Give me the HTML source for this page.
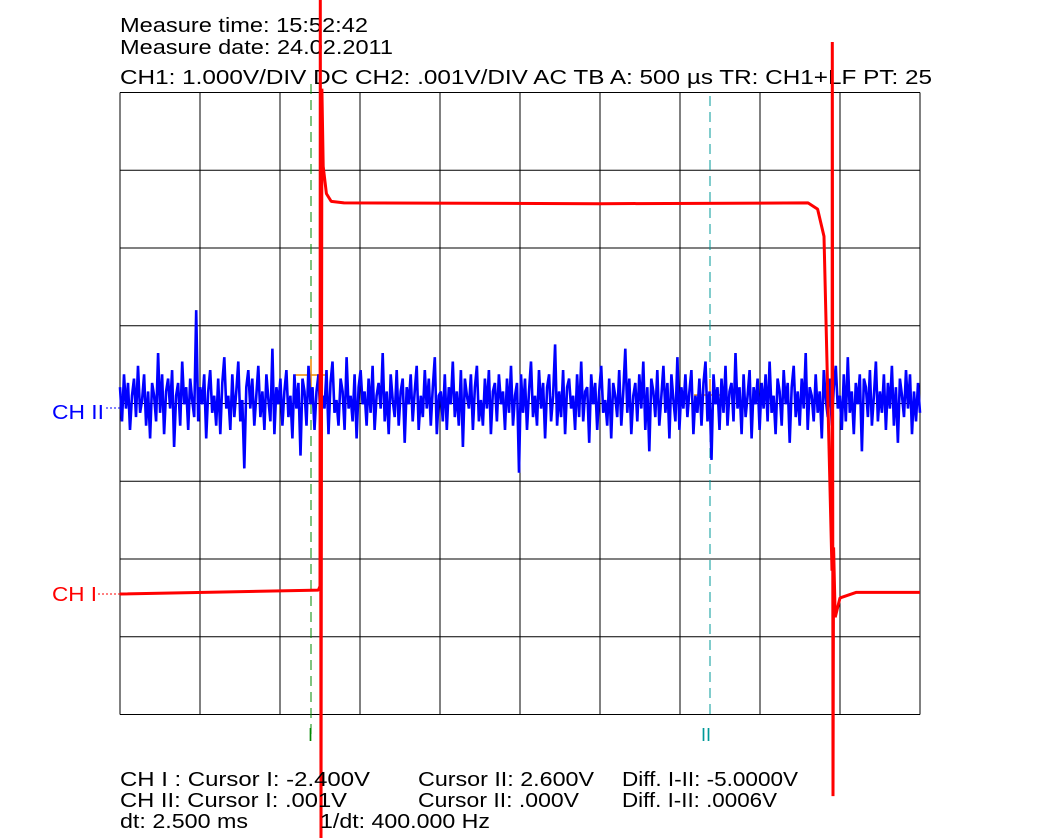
<!DOCTYPE html>
<html><head><meta charset="utf-8"><style>
body{margin:0;background:#fff;width:1041px;height:838px;overflow:hidden}
svg{display:block;font-family:"Liberation Sans",sans-serif}
</style></head><body>
<svg id="c" width="1041" height="838">
<g font-size="20" fill="#000">
<text x="120" y="32" textLength="248" lengthAdjust="spacingAndGlyphs">Measure time: 15:52:42</text>
<text x="120" y="54" textLength="273" lengthAdjust="spacingAndGlyphs">Measure date: 24.02.2011</text>
<text x="120" y="84" textLength="812" lengthAdjust="spacingAndGlyphs">CH1: 1.000V/DIV DC  CH2: .001V/DIV AC   TB A: 500 µs  TR: CH1+LF  PT: 25</text>
</g>
<g id="grid"></g>
<g id="cursors"></g>
<g id="traces"></g>
<text x="52" y="419" font-size="20" fill="#00f" textLength="52" lengthAdjust="spacingAndGlyphs">CH II</text>
<line x1="106" y1="408" x2="120" y2="408" stroke="#00f" stroke-dasharray="2,2"/>
<text x="52" y="601" font-size="20" fill="#f00" textLength="45" lengthAdjust="spacingAndGlyphs">CH I</text>
<line x1="98" y1="594" x2="120" y2="594" stroke="#f00" stroke-dasharray="2,2"/>
<g font-size="20" fill="#000">
<text x="120" y="786" textLength="250" lengthAdjust="spacingAndGlyphs">CH I :  Cursor I: -2.400V</text>
<text x="418" y="786" textLength="176" lengthAdjust="spacingAndGlyphs">Cursor II: 2.600V</text>
<text x="622" y="786" textLength="176" lengthAdjust="spacingAndGlyphs">Diff. I-II: -5.0000V</text>
<text x="120" y="807" textLength="227" lengthAdjust="spacingAndGlyphs">CH II:  Cursor I: .001V</text>
<text x="418" y="807" textLength="161" lengthAdjust="spacingAndGlyphs">Cursor II: .000V</text>
<text x="622" y="807" textLength="155" lengthAdjust="spacingAndGlyphs">Diff. I-II: .0006V</text>
<text x="120" y="828" textLength="128" lengthAdjust="spacingAndGlyphs">dt: 2.500 ms</text>
<text x="320" y="828" textLength="170" lengthAdjust="spacingAndGlyphs">1/dt: 400.000 Hz</text>
</g>
</svg>
<script>
// CH1 (volts) vs time (ms)
const ch1Times=[0,1.24,1.25,1.252,1.256,1.262,1.27,1.29,1.32,1.4,3,4.3,4.36,4.4,4.43,4.45,4.452,4.456,4.46,4.47,4.5,4.6,5];
const ch1Volts=[0,0.05,0.1,10,-10,6.5,5.5,5.15,5.05,5.03,5.02,5.03,4.95,4.6,2,0.3,7.1,-2.6,0.6,-0.3,-0.05,0.02,0.02];
// CH2 noise (divisions, 0.001 V/div), evenly spaced over 5 ms
const ch2Noise=[0.3,-0.5,0.6,-0.2,0.4,-0.7,0.1,0.5,-0.4,0.8,-0.3,0.0,0.6,-0.6,0.2,-0.9,0.4,0.1,-0.5,1.1,-0.3,0.6,-0.8,0.2,0.5,-0.2,0.7,-1.1,0.1,0.4,-0.6,0.9,-0.1,0.3,-0.7,0.5,0.0,-0.4,2.1,-0.5,0.3,-0.1,0.6,-0.9,0.2,0.7,-0.3,0.1,-0.6,0.5,
-0.8,0.4,1.0,-0.2,0.1,-0.7,0.6,-0.4,0.2,0.9,-0.5,0.0,-1.6,0.3,0.7,-0.2,0.5,-0.6,0.1,0.8,-0.4,0.2,-0.7,0.6,0.0,-0.5,1.2,-0.8,0.3,-0.1,0.5,-0.6,0.2,0.7,-0.4,0.1,-0.9,0.6,-0.2,0.4,-1.3,0.5,0.2,-0.6,0.8,-0.1,0.3,-0.7,0.2,0.6,
-0.5,0.1,-0.2,0.7,-0.8,0.4,0.9,-0.3,0.0,-0.6,0.5,0.2,-0.7,1.0,-0.2,0.1,-0.5,0.6,-0.9,0.3,0.7,-0.1,0.2,-0.6,0.5,-0.3,0.8,-0.7,0.1,0.4,-0.2,1.1,-0.5,0.2,-0.8,0.6,0.0,-0.4,0.7,-0.6,0.2,0.5,-1.0,0.3,-0.1,0.6,-0.5,0.2,0.8,-0.7,
0.1,-0.4,0.7,-0.2,0.5,-0.6,0.3,1.0,-0.8,0.1,0.2,-0.5,0.6,-0.7,0.3,-0.1,0.9,-0.4,0.2,-0.6,0.7,-1.1,0.5,0.1,-0.2,0.6,-0.7,0.3,0.8,-0.5,0.0,-0.6,0.5,-0.2,0.7,-0.8,0.2,0.4,-0.5,0.6,-0.1,0.2,-0.7,0.5,-0.3,0.8,-0.6,0.1,0.4,-1.7,
0.6,-0.3,0.5,-0.7,0.2,0.9,-0.4,0.1,-0.6,0.7,-0.2,0.4,-0.9,0.3,0.6,-0.5,0.1,1.3,-0.6,0.2,-0.4,0.7,-0.8,0.3,0.5,-0.2,0.1,-0.7,0.6,-0.4,0.9,-0.5,0.2,0.3,-1.0,0.6,-0.1,0.4,-0.7,0.2,0.8,-0.3,0.0,-0.6,0.5,-0.9,0.4,0.1,-0.4,0.7,
-0.6,0.2,1.2,-0.3,0.5,-0.8,0.1,0.4,-0.5,0.6,-0.2,0.9,-0.7,0.3,-1.2,0.5,0.2,-0.4,0.7,-0.6,0.1,0.8,-0.3,0.4,-0.9,0.6,0.0,-0.5,1.0,-0.7,0.3,-0.2,0.6,-0.4,0.2,0.7,-0.8,0.1,-0.3,0.5,-0.6,0.4,0.9,-0.5,0.2,-1.4,0.6,-0.1,0.3,-0.7,
0.5,-0.3,0.8,-0.6,0.2,0.4,-0.5,1.1,-0.2,0.3,-0.8,0.6,-0.4,0.1,0.7,-0.9,0.3,-0.1,0.5,-0.7,0.4,-0.2,0.6,-0.5,0.9,-0.3,0.1,-0.8,0.5,0.2,-0.6,0.7,-0.1,0.4,-1.0,0.3,0.8,-0.4,0.2,-0.6,0.5,-0.2,1.1,-0.7,0.3,0.1,-0.5,0.6,-0.3,0.2,
-0.9,0.7,0.0,-0.4,0.5,-0.6,0.3,0.8,-0.2,0.1,-0.7,0.6,-0.5,1.0,-0.3,0.2,-0.8,0.4,-0.1,0.6,-1.2,0.5,0.3,-0.4,0.7,-0.6,0.1,0.9,-0.5,0.2,-0.3,0.6,-0.7,0.4,-0.2,0.8,-0.6,0.3,-1.0,0.5,0.1,-0.4,0.7,-0.2,0.6,-0.8,0.2,-0.5,0.4,-0.3];
const gx0=120,gy0=92.5,divW=80,divH=77.75;
const ns="http://www.w3.org/2000/svg";
function xOf(ms){return gx0+ms/0.5*divW;}
function y1Of(v){return 594-v*divH;}
function y2Of(d){return 400-d*divH*0.55;}
function mk(t,a,p){const e=document.createElementNS(ns,t);for(const k in a)e.setAttribute(k,a[k]);p.appendChild(e);return e;}
const grid=document.getElementById('grid');
for(let i=0;i<=10;i++){const l=mk('line',{x1:gx0+i*divW,y1:gy0,x2:gx0+i*divW,y2:gy0+8*divH,stroke:'#000','stroke-width':1},grid);

}
for(let j=0;j<=8;j++){const l=mk('line',{x1:gx0,y1:gy0+j*divH,x2:gx0+10*divW,y2:gy0+j*divH,stroke:'#000','stroke-width':1},grid);

}
const cur=document.getElementById('cursors');
const c1=mk('line',{x1:311,y1:84,x2:311,y2:740,stroke:'#080','stroke-dasharray':'10,6'},cur);


const c2=mk('line',{x1:710,y1:96,x2:710,y2:720,stroke:'#099','stroke-dasharray':'10,6'},cur);


const t1=mk('text',{x:308,y:741,'font-size':18,fill:'#080'},cur);t1.textContent='I';


const t2=mk('text',{x:701,y:741,'font-size':18,fill:'#099'},cur);t2.textContent='II';


const tr=document.getElementById('traces');
const dtMs=5/(ch2Noise.length-1);
let p='';ch2Noise.forEach((d,i)=>{p+=(i?'L':'M')+xOf(i*dtMs).toFixed(1)+','+y2Of(d).toFixed(1);});
const b=mk('path',{d:p,fill:'none',stroke:'#00f','stroke-width':2.6},tr);


let q='';ch1Times.forEach((t,i)=>{q+=(i?'L':'M')+xOf(t).toFixed(1)+','+Math.max(0,Math.min(838,y1Of(ch1Volts[i]))).toFixed(1);});
const r=mk('path',{d:q,fill:'none',stroke:'#f00','stroke-width':3,'stroke-linejoin':'bevel'},tr);


[[311,375],[710,395]].forEach(([x,y])=>{const g=mk('path',{d:`M${x-16},${y}H${x+16}M${x},${y-16}V${y+16}`,stroke:'#e80','stroke-width':1.5,fill:'none'},cur);

});
</script>
</body></html>
